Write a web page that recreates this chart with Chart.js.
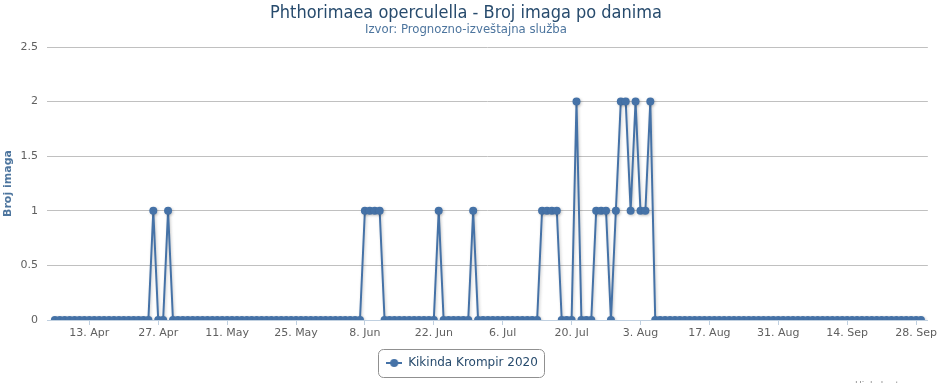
<!DOCTYPE html>
<html>
<head>
<meta charset="utf-8">
<script src="https://cdn.jsdelivr.net/npm/chart.js@4.4.1/dist/chart.umd.min.js"></script>
<style>
  html, body { margin: 0; padding: 0; background: #ffffff; }
  #wrap { width: 939px; height: 383px; position: relative; }
</style>
</head>
<body>
<div id="wrap"><canvas id="c" width="939" height="383"></canvas></div>
<script>
// ---- Data (daily counts, 6 Apr 2020 = day 0 ... 29 Sep 2020 = day 176) ----
const seriesName = 'Kikinda Krompir 2020';
const counts = [
  0,0,0,0,0,0,0,0,0,0,
  0,0,0,0,0,0,0,0,0,0,
  1,0,0,1,0,0,0,0,0,0,
  0,0,0,0,0,0,0,0,0,0,
  0,0,0,0,0,0,0,0,0,0,
  0,0,0,0,0,0,0,0,0,0,
  0,0,0,1,1,1,1,0,0,0,
  0,0,0,0,0,0,0,0,1,0,
  0,0,0,0,0,1,0,0,0,0,
  0,0,0,0,0,0,0,0,0,1,
  1,1,1,0,0,0,2,0,0,0,
  1,1,1,0,1,2,2,1,2,1,
  1,2,0,0,0,0,0,0,0,0,
  0,0,0,0,0,0,0,0,0,0,
  0,0,0,0,0,0,0,0,0,0,
  0,0,0,0,0,0,0,0,0,0,
  0,0,0,0,0,0,0,0,0,0,
  0,0,0,0,0,0,0
];
const tickDays   = [7, 21, 35, 49, 63, 77, 91, 105, 119, 133, 147, 161, 175];
const tickLabels = ['13. Apr','27. Apr','11. May','25. May','8. Jun','22. Jun','6. Jul',
                    '20. Jul','3. Aug','17. Aug','31. Aug','14. Sep','28. Sep'];
const yTicks = [0, 0.5, 1, 1.5, 2, 2.5];

const points = counts.map((v, i) => ({ x: i, y: v }));

const FONT = "'DejaVu Sans', Verdana, sans-serif";
const TFONT = "'DejaVu Sans Condensed', 'DejaVu Sans', sans-serif";
const LINE = '#4572A7';

// legend symbol: line + circle
const sym = document.createElement('canvas');
sym.width = 16; sym.height = 10;
(function(){
  const g = sym.getContext('2d');
  g.strokeStyle = LINE; g.lineWidth = 2;
  g.beginPath(); g.moveTo(0, 5); g.lineTo(16, 5); g.stroke();
  g.fillStyle = LINE; g.beginPath(); g.arc(8, 5, 4, 0, Math.PI * 2); g.fill();
})();

const extras = {
  id: 'extras',
  afterLayout(chart) {
    const lg = chart.legend;
    if (lg) { lg.left -= 4; lg.right -= 4; }
  },
  beforeDatasetDraw(chart) {
    const ctx = chart.ctx;
    ctx.save();
    ctx.shadowColor = 'rgba(0,0,0,0.22)';
    ctx.shadowBlur = 3;
    ctx.shadowOffsetX = 1;
    ctx.shadowOffsetY = 1;
  },
  afterDatasetDraw(chart) { chart.ctx.restore(); },
  afterDraw(chart) {
    const ctx = chart.ctx;
    const lg = chart.legend;
    if (lg && lg.legendHitBoxes && lg.legendHitBoxes.length) {
      const hb = lg.legendHitBoxes[0];
      const x = Math.round(hb.left - 8) + 0.5;
      const w = Math.round(hb.width + 14);
      const cy = hb.top + hb.height / 2;
      const y = Math.round(cy - 14) + 0.5;
      ctx.save();
      ctx.strokeStyle = '#909090';
      ctx.lineWidth = 1;
      ctx.beginPath();
      ctx.roundRect(x, y, w, 28, 5);
      ctx.stroke();
      ctx.restore();
    }
    ctx.save();
    ctx.fillStyle = '#909090';
    ctx.font = '9px ' + FONT;
    ctx.textAlign = 'left';
    ctx.textBaseline = 'alphabetic';
    ctx.fillText('Highcharts.com', 855, 388);
    ctx.restore();
  }
};

new Chart(document.getElementById('c'), {
  type: 'line',
  data: {
    datasets: [{
      label: seriesName,
      data: points,
      borderColor: LINE,
      backgroundColor: LINE,
      borderWidth: 2,
      pointRadius: 4,
      pointBorderWidth: 0,
      pointBackgroundColor: LINE,
      tension: 0,
      fill: false
    }]
  },
  options: {
    responsive: false,
    animation: false,
    layout: { padding: { left: 0, right: 7, top: 0, bottom: 4 } },
    plugins: {
      tooltip: { enabled: false },
      title: {
        display: true,
        text: 'Phthorimaea operculella - Broj imaga po danima',
        color: '#274b6d',
        font: { family: TFONT, size: 18, weight: 'normal', lineHeight: 1.0 },
        padding: { top: 4, bottom: 0 }
      },
      subtitle: {
        display: true,
        text: 'Izvor: Prognozno-izveštajna služba',
        color: '#4d759e',
        font: { family: TFONT, size: 13, weight: 'normal', lineHeight: 1.1 },
        padding: { top: 0, bottom: 10.7 }
      },
      legend: {
        position: 'bottom',
        labels: {
          usePointStyle: true,
          pointStyleWidth: 16,
          boxHeight: 10,
          padding: 10,
          color: '#274b6d',
          font: { family: FONT, size: 12 },
          generateLabels(chart) {
            return [{
              text: seriesName,
              pointStyle: sym,
              fillStyle: LINE,
              strokeStyle: LINE,
              lineWidth: 0,
              hidden: false,
              datasetIndex: 0,
              fontColor: '#274b6d'
            }];
          }
        }
      }
    },
    scales: {
      x: {
        type: 'linear',
        min: -1.6,
        max: 177.4,
        afterBuildTicks(scale) { scale.ticks = tickDays.map(v => ({ value: v })); },
        afterFit(scale) { scale.height = 27; },
        ticks: {
          autoSkip: false,
          maxRotation: 0,
          padding: 2,
          color: '#606060',
          font: { family: FONT, size: 11 },
          callback(v) { const i = tickDays.indexOf(v); return i >= 0 ? tickLabels[i] : ''; }
        },
        grid: { drawOnChartArea: false, drawTicks: true, tickLength: 5, color: '#C0D0E0' },
        border: { display: true, color: '#C0D0E0', width: 1 }
      },
      y: {
        min: 0,
        max: 2.5,
        afterBuildTicks(scale) { scale.ticks = yTicks.map(v => ({ value: v })); },
        afterFit(scale) { scale.width = 47; },
        ticks: {
          padding: 9,
          color: '#606060',
          font: { family: FONT, size: 11 },
          callback(v) { return String(v); }
        },
        grid: { color: '#C0C0C0', drawTicks: false, lineWidth: 1 },
        border: { display: false },
        title: {
          display: true,
          text: 'Broj imaga',
          color: '#4d759e',
          font: { family: FONT, size: 11, weight: 'bold' },
          padding: { top: 2, bottom: 0 }
        }
      }
    }
  },
  plugins: [extras]
});
</script>
</body>
</html>
